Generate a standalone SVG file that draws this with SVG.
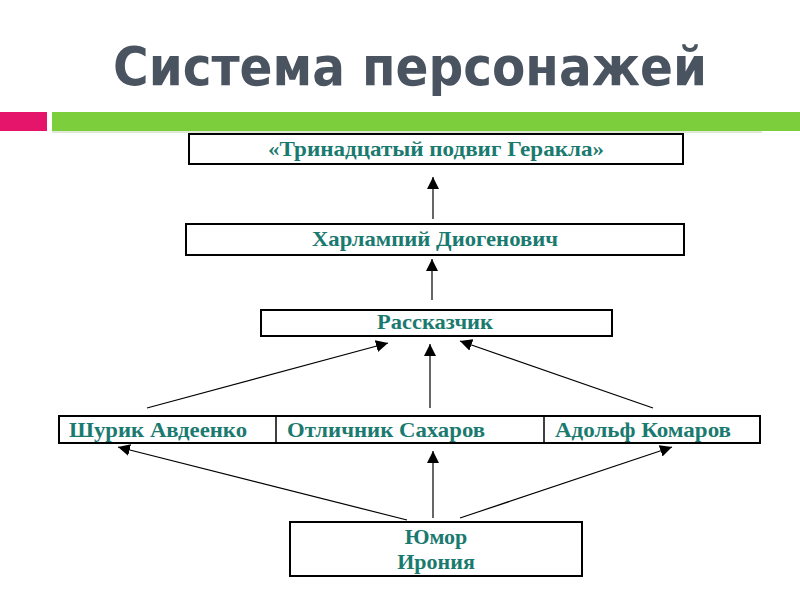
<svg xmlns="http://www.w3.org/2000/svg" width="800" height="600" viewBox="0 0 800 600">
<defs>
<marker id="ah" viewBox="0 0 10 10" refX="10" refY="5" markerWidth="12" markerHeight="12" markerUnits="userSpaceOnUse" orient="auto">
<path d="M0,0 L10,5 L0,10 z" fill="#000"/>
</marker>
<style>
.box{fill:#fff;stroke:#000;stroke-width:2}
.lbl{font-family:"Liberation Serif","Times New Roman",serif;font-weight:bold;font-size:22px;fill:#1b7a70;text-anchor:middle}
.con{stroke:#000;stroke-width:1.2;fill:none;marker-end:url(#ah)}
.title{font-family:"DejaVu Sans Condensed","DejaVu Sans",sans-serif;font-weight:bold;font-size:53px;fill:#4a5360;text-anchor:middle}
</style>
</defs>
<rect width="800" height="600" fill="#fff"/>
<text class="title" x="410" y="85" textLength="594" lengthAdjust="spacingAndGlyphs">Система персонажей</text>
<rect x="0" y="112" width="47" height="19" fill="#e5156c"/>
<rect x="52" y="112" width="748" height="19" fill="#7dce3c"/>
<rect x="52" y="131" width="710" height="2" fill="#dfe8d6"/>

<g id="connectors">
<line class="con" x1="433" y1="219" x2="433" y2="177"/>
<line class="con" x1="432" y1="300" x2="432" y2="259"/>
<line class="con" x1="147" y1="408" x2="388" y2="343"/>
<line class="con" x1="430" y1="408" x2="430" y2="344"/>
<line class="con" x1="653" y1="408" x2="460" y2="341"/>
<line class="con" x1="407" y1="520" x2="118" y2="447"/>
<line class="con" x1="433" y1="518" x2="433" y2="451"/>
<line class="con" x1="460" y1="518" x2="672" y2="447"/>
</g>

<g id="n-gerakl">
<rect class="box" x="189" y="134" width="494" height="30"/>
<text class="lbl" x="436" y="156" textLength="336" lengthAdjust="spacingAndGlyphs">«Тринадцатый подвиг Геракла»</text>
</g>
<g id="n-kharlampiy">
<rect class="box" x="186" y="224" width="498" height="31"/>
<text class="lbl" x="435" y="246" textLength="246" lengthAdjust="spacingAndGlyphs">Харлампий Диогенович</text>
</g>
<g id="n-rasskazchik">
<rect class="box" x="261" y="310" width="351" height="26"/>
<text class="lbl" x="435" y="329" textLength="116" lengthAdjust="spacingAndGlyphs">Рассказчик</text>
</g>
<g id="n-row">
<rect class="box" x="59" y="416" width="701" height="27"/>
<line x1="276" y1="416" x2="276" y2="443" stroke="#000" stroke-width="1.5"/>
<line x1="544" y1="416" x2="544" y2="443" stroke="#000" stroke-width="1.5"/>
</g>
<g id="n-shurik">
<text class="lbl" x="158" y="437" textLength="178" lengthAdjust="spacingAndGlyphs">Шурик Авдеенко</text>
</g>
<g id="n-sakharov">
<text class="lbl" x="386" y="437" textLength="198" lengthAdjust="spacingAndGlyphs">Отличник Сахаров</text>
</g>
<g id="n-komarov">
<text class="lbl" x="643" y="437" textLength="176" lengthAdjust="spacingAndGlyphs">Адольф Комаров</text>
</g>
<g id="n-humor">
<rect class="box" x="290" y="522" width="292" height="54"/>
<text class="lbl" x="436" y="544">Юмор</text>
<text class="lbl" x="436" y="569">Ирония</text>
</g>
</svg>
